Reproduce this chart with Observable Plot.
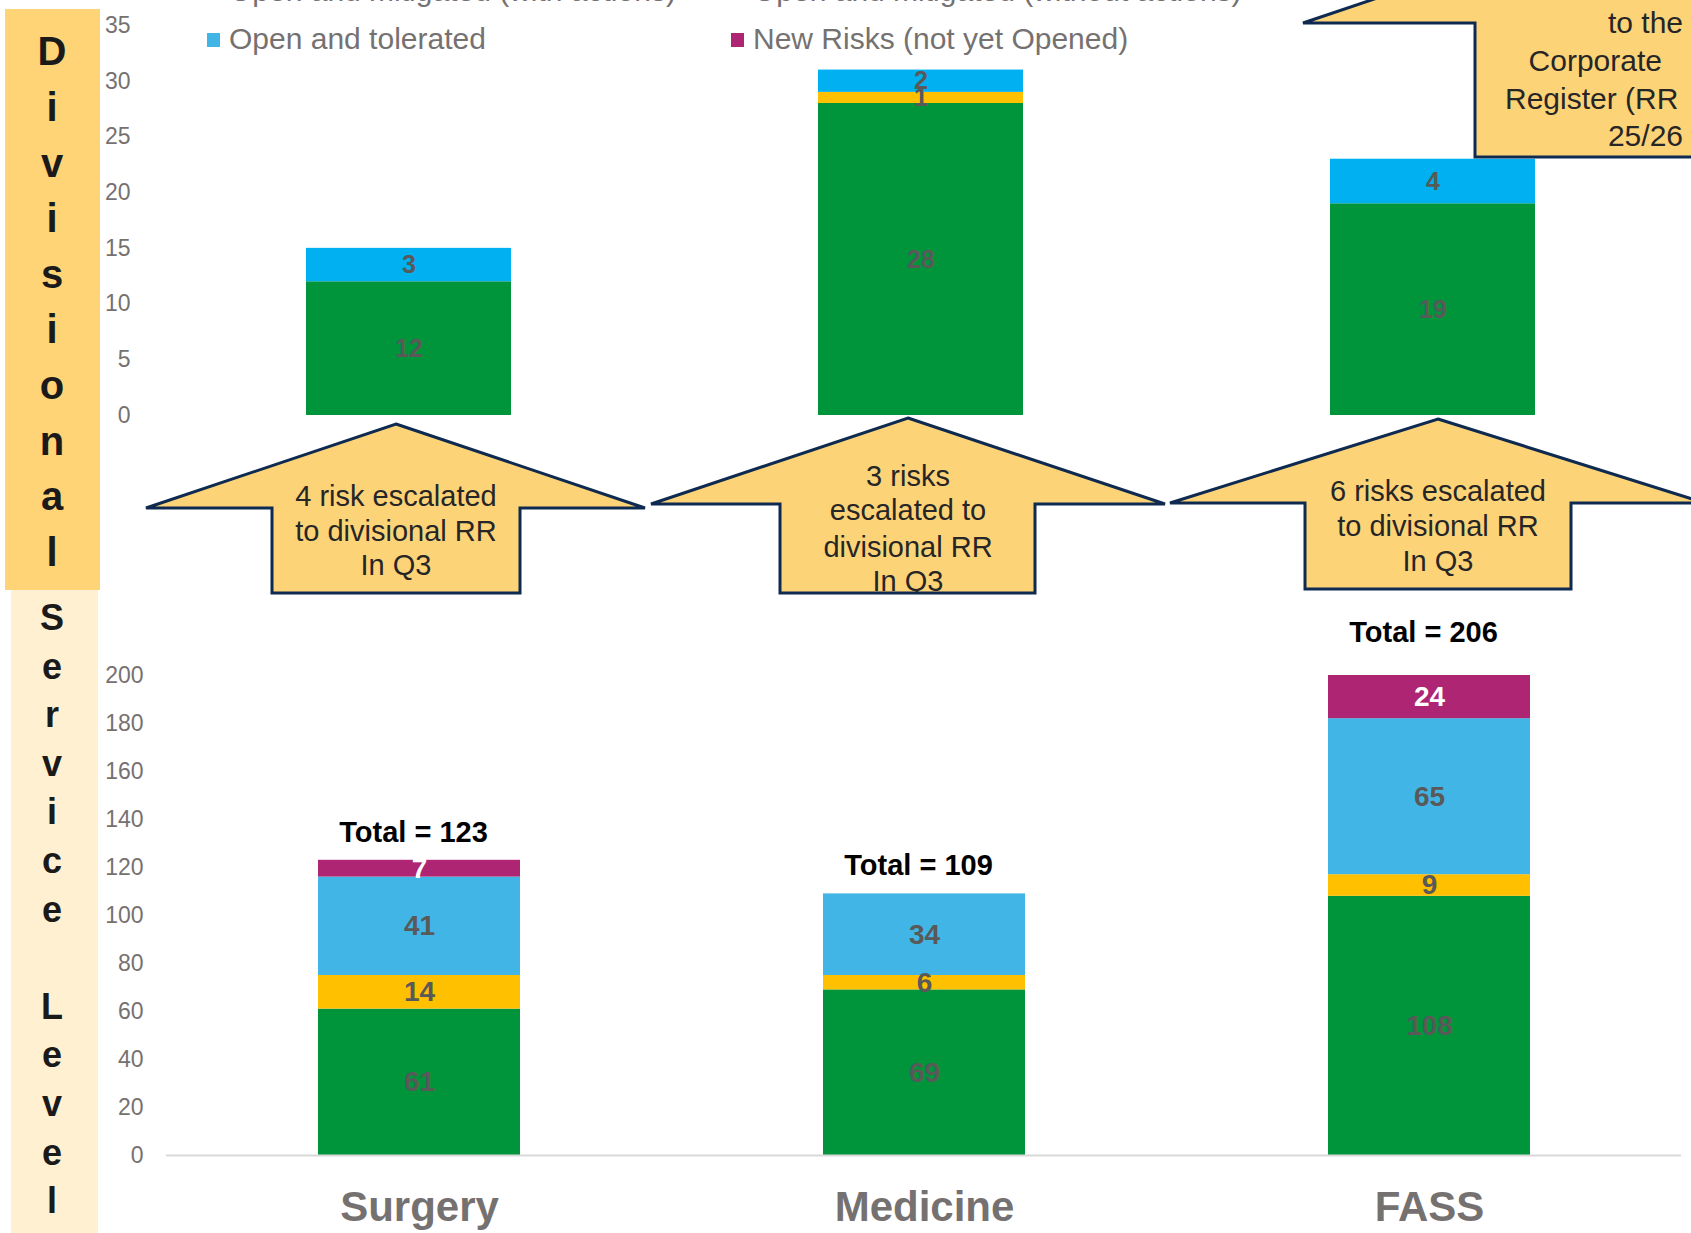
<!DOCTYPE html>
<html><head><meta charset="utf-8">
<script src="https://cdn.jsdelivr.net/npm/d3@7"></script>
<script src="https://cdn.jsdelivr.net/npm/@observablehq/plot@0.6"></script>
<style>
html,body{margin:0;padding:0;background:#fff;}
#page{position:relative;width:1691px;height:1233px;overflow:hidden;font-family:Arial,"Liberation Sans",Helvetica,sans-serif;}
#page > *{position:absolute;}
.leg{font-size:30px;color:#767171;white-space:nowrap;line-height:1;}
</style></head><body><div id="page"></div>
<script>
// ---------- DATA ----------
const divisions = ["Surgery", "Medicine", "FASS"];
const seriesNames = ["Open and mitigated (with actions)", "Open and mitigated (without actions)", "Open and tolerated", "New Risks (not yet Opened)"];
// Divisional level (top chart)
const divWithActions    = [12, 28, 19];
const divWithoutActions = [0, 1, 0];
const divTolerated      = [3, 2, 4];
const divNewRisks       = [0, 0, 0];
// Service level (bottom chart)
const svcWithActions    = [61, 69, 108];
const svcWithoutActions = [14, 6, 9];
const svcTolerated      = [41, 34, 65];
const svcNewRisks       = [7, 0, 24];
const svcTotals         = [123, 109, 206];
// Axis ticks
const divTicks = [0, 5, 10, 15, 20, 25, 30, 35];
const svcTicks = [0, 20, 40, 60, 80, 100, 120, 140, 160, 180, 200];
// Annotation texts
const escalationNotes = [
  ["4 risk escalated", "to divisional RR", "In Q3"],
  ["3 risks", "escalated to", "divisional RR", "In Q3"],
  ["6 risks escalated", "to divisional RR", "In Q3"]
];
const corporateNote = ["to the", "Corporate", "Register (RR", "25/26"];
const sideLabelTop = "Divisional";
const sideLabelBottom = "Service Level";

// ---------- STYLE ----------
const divColors = ["#00953A", "#FFC000", "#00B0F0", "#AE2573"];
const svcColors = ["#00953A", "#FFC000", "#41B6E6", "#AE2573"];
const legendColors = ["#00953A", "#FFC000", "#41B6E6", "#AE2573"];
const axisGray = "#767171";
const labelGray = "#595959";
const font = "Arial, 'Liberation Sans', Helvetica, sans-serif";

function buildTable(cols) {
  const rows = [];
  divisions.forEach((dv, i) => {
    let acc = 0;
    seriesNames.forEach((s, j) => {
      const v = cols[j][i];
      if (v > 0) rows.push({division: dv, series: s, idx: j, value: v, y1: acc, y2: acc + v});
      acc += v;
    });
  });
  return rows;
}
const divTable = buildTable([divWithActions, divWithoutActions, divTolerated, divNewRisks]);
const svcTable = buildTable([svcWithActions, svcWithoutActions, svcTolerated, svcNewRisks]);
const svcMax = svcTicks[svcTicks.length - 1];
const totalsTable = divisions.map((d, i) => ({division: d, total: svcTotals[i]}));

const page = document.getElementById("page");

// ---------- background side boxes ----------
const bg = d3.create("svg").attr("width", 1691).attr("height", 1233).style("left", "0px").style("top", "0px");
bg.append("rect").attr("x", 5).attr("y", 9).attr("width", 95).attr("height", 581).attr("fill", "#FFD476");
bg.append("rect").attr("x", 11).attr("y", 590).attr("width", 87).attr("height", 660).attr("fill", "#FFF0D2");
sideLabelTop.split("").forEach((ch, k) => {
  bg.append("text").attr("x", 52).attr("y", 51 + k * 55.6).attr("dy", "0.36em").attr("text-anchor", "middle")
    .attr("font-family", font).attr("font-weight", "bold").attr("font-size", 40).attr("fill", "#1a1a1a").text(ch);
});
sideLabelBottom.split("").forEach((ch, k) => {
  if (ch === " ") return;
  bg.append("text").attr("x", 52).attr("y", 617 + k * 48.6).attr("dy", "0.36em").attr("text-anchor", "middle")
    .attr("font-family", font).attr("font-weight", "bold").attr("font-size", 36).attr("fill", "#1a1a1a").text(ch);
});
page.appendChild(bg.node());

// ---------- top (divisional) chart ----------
const topPlot = Plot.plot({
  width: 1691, height: 430,
  marginTop: 25, marginBottom: 15, marginLeft: 152, marginRight: 3,
  style: {background: "transparent", overflow: "visible", fontFamily: font},
  x: {domain: divisions, paddingInner: 0.6, paddingOuter: 0.3, axis: null},
  y: {domain: [0, 35], label: null},
  color: {domain: seriesNames, range: divColors},
  marks: [
    Plot.axisY({ticks: divTicks, tickSize: 0, tickPadding: 22, fontSize: 23, color: axisGray, fill: axisGray, label: null}),
    Plot.barY(divTable, {x: "division", y1: "y1", y2: "y2", fill: "series"}),
    Plot.text(divTable, {x: "division", y: d => (d.y1 + d.y2) / 2, text: d => String(d.value),
      fill: d => d.idx === 3 ? "white" : labelGray, fontSize: 25, fontWeight: "bold"})
  ]
});
topPlot.style.left = "0px"; topPlot.style.top = "0px";
page.appendChild(topPlot);

// ---------- bottom (service level) chart ----------
const botPlot = Plot.plot({
  width: 1691, height: 673,
  marginTop: 115, marginBottom: 78, marginLeft: 166, marginRight: 10,
  style: {background: "transparent", overflow: "visible", fontFamily: font},
  x: {domain: divisions, paddingInner: 0.6, paddingOuter: 0.3, label: null},
  y: {domain: [0, svcMax], label: null},
  color: {domain: seriesNames, range: svcColors},
  marks: [
    Plot.axisY({ticks: svcTicks, tickSize: 0, tickPadding: 23, fontSize: 23, color: axisGray, fill: axisGray, label: null}),
    Plot.axisX({tickSize: 0, tickPadding: 36, fontSize: 42, fontWeight: "bold", color: axisGray, fill: axisGray, label: null}),
    Plot.barY(svcTable, {x: "division", y1: "y1", y2: "y2", fill: "series", clip: true}),
    Plot.ruleY([0], {stroke: "#D9D9D9", strokeWidth: 2}),
    Plot.text(svcTable, {x: "division", y: d => (d.y1 + Math.min(d.y2, svcMax)) / 2, text: d => String(d.value),
      fill: d => d.idx === 3 ? "white" : labelGray, fontSize: 28, fontWeight: "bold"}),
    Plot.text(totalsTable, {x: "division", y: "total", dy: -28, dx: -6, text: d => `Total = ${d.total}`,
      fill: "black", fontSize: 29, fontWeight: "bold"})
  ]
});
botPlot.style.left = "0px"; botPlot.style.top = "560px";
page.appendChild(botPlot);

// ---------- escalation arrows (annotations) ----------
const arrowLayout = [
  {tipX: 396, tipY: 424, wingY: 508, left: 146, right: 645, shaftL: 272, shaftR: 520, bottom: 593, textY: [496, 531, 565]},
  {tipX: 908, tipY: 418, wingY: 504, left: 651, right: 1165, shaftL: 780, shaftR: 1035, bottom: 593, textY: [476, 510, 547, 581]},
  {tipX: 1438, tipY: 419, wingY: 503, left: 1170, right: 1705, shaftL: 1305, shaftR: 1571, bottom: 589, textY: [491, 526, 561]}
];
const ov = d3.create("svg").attr("width", 1691).attr("height", 1233).style("left", "0px").style("top", "0px").style("pointer-events", "none");
const defs = ov.append("defs");
function arrowPts(a) {
  return [[a.tipX, a.tipY], [a.right, a.wingY], [a.shaftR, a.wingY], [a.shaftR, a.bottom],
          [a.shaftL, a.bottom], [a.shaftL, a.wingY], [a.left, a.wingY]].map(p => p.join(",")).join(" ");
}
arrowLayout.forEach((a, i) => {
  const pts = arrowPts(a);
  defs.append("clipPath").attr("id", "clipA" + i).append("polygon").attr("points", pts);
  ov.append("polygon").attr("points", pts).attr("fill", "#FDD378").attr("stroke", "#0E2A50").attr("stroke-width", 3).attr("stroke-linejoin", "miter");
  const g = ov.append("g").attr("clip-path", `url(#clipA${i})`);
  escalationNotes[i].forEach((line, k) => {
    g.append("text").attr("x", a.tipX).attr("y", a.textY[k]).attr("dy", "0.36em").attr("text-anchor", "middle")
      .attr("font-family", font).attr("font-size", 29).attr("fill", "#262626").text(line);
  });
});
// top-right corporate callout (partly off-canvas)
const corp = {tipX: 1600, tipY: -77, wingY: 23, left: 1303, right: 1897, shaftL: 1475, shaftR: 1725, bottom: 157};
ov.append("polygon").attr("points", arrowPts(corp)).attr("fill", "#FDD378").attr("stroke", "#0E2A50").attr("stroke-width", 3);
const corpLines = [
  {y: 22, x: 1683, anchor: "end"},
  {y: 60, x: 1662, anchor: "end"},
  {y: 98, x: 1505, anchor: "start"},
  {y: 135, x: 1683, anchor: "end"}
];
corporateNote.forEach((line, k) => {
  ov.append("text").attr("x", corpLines[k].x).attr("y", corpLines[k].y).attr("dy", "0.36em").attr("text-anchor", corpLines[k].anchor)
    .attr("font-family", font).attr("font-size", 30).attr("fill", "#262626").text(line);
});
page.appendChild(ov.node());

// ---------- legend (top rows partly off-canvas) ----------
const legendPos = [
  {sq: 207, tx: 229, cy: -8},
  {sq: 731, tx: 753, cy: -8},
  {sq: 207, tx: 229, cy: 40},
  {sq: 731, tx: 753, cy: 40}
];
seriesNames.forEach((s, j) => {
  const p = legendPos[j];
  const sq = document.createElement("div");
  sq.style.cssText = `left:${p.sq}px;top:${p.cy - 7}px;width:13px;height:14px;background:${legendColors[j]};`;
  page.appendChild(sq);
  const t = document.createElement("div");
  t.className = "leg";
  t.style.left = p.tx + "px";
  t.style.top = (p.cy - 16) + "px";
  t.textContent = s;
  page.appendChild(t);
});
</script>
</body></html>
